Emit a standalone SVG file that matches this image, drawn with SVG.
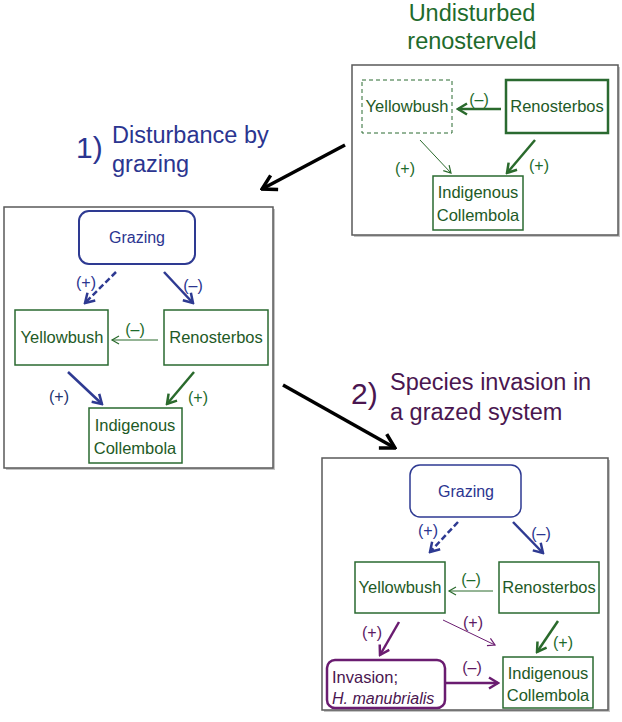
<svg xmlns="http://www.w3.org/2000/svg" width="622" height="722" viewBox="0 0 622 722">
<style>
text{font-family:"Liberation Sans",Arial,sans-serif}
.frame{fill:#fff;stroke:#5a5a5a;stroke-width:1.5}
.shadow{fill:#c4c4c4}
.gbox{fill:#fff;stroke:#2a6a30;stroke-width:1.5}
.node{font-size:16.5px;fill:#1e5a26;text-anchor:middle}
.gz{font-size:16px;fill:#2b3590;text-anchor:middle}
.lbl{font-size:16px;text-anchor:middle}
.tg{fill:#1e6b2c}.tb{fill:#2b3590}.tp{fill:#4a1650}.tn{fill:#23336e}.tpu{fill:#5d1a63}
.title{font-size:23.5px}
.big{font-size:30px}
.cg{stroke:#2a6a2c;fill:none}.cb{stroke:#2e3a92;fill:none}.cp{stroke:#6a1c70;fill:none}
.thick{stroke-width:2.5}.thin{stroke-width:1}
</style>
<defs>
<marker id="mgT" viewBox="-12 -8 14 16" markerWidth="14" markerHeight="16" refX="0" refY="0" orient="auto" markerUnits="userSpaceOnUse"><path d="M-9,-5.5 L0,0 L-9,5.5" fill="none" stroke="#2a6a2c" stroke-width="2.5"/></marker>
<marker id="mgt" viewBox="-10 -6 12 12" markerWidth="12" markerHeight="12" refX="0" refY="0" orient="auto" markerUnits="userSpaceOnUse"><path d="M-7,-4 L0,0 L-7,4" fill="none" stroke="#2a6a2c" stroke-width="1.2"/></marker>
<marker id="mbT" viewBox="-12 -8 14 16" markerWidth="14" markerHeight="16" refX="0" refY="0" orient="auto" markerUnits="userSpaceOnUse"><path d="M-9,-5.5 L0,0 L-9,5.5" fill="none" stroke="#2e3a92" stroke-width="2.5"/></marker>
<marker id="mpT" viewBox="-12 -8 14 16" markerWidth="14" markerHeight="16" refX="0" refY="0" orient="auto" markerUnits="userSpaceOnUse"><path d="M-9,-5.5 L0,0 L-9,5.5" fill="none" stroke="#6a1c70" stroke-width="2.5"/></marker>
<marker id="mpt" viewBox="-10 -6 12 12" markerWidth="12" markerHeight="12" refX="0" refY="0" orient="auto" markerUnits="userSpaceOnUse"><path d="M-7,-4 L0,0 L-7,4" fill="none" stroke="#6a1c70" stroke-width="1.2"/></marker>
<marker id="mk" viewBox="-18 -10 20 20" markerWidth="20" markerHeight="20" refX="0" refY="0" orient="auto" markerUnits="userSpaceOnUse"><path d="M-14,-8 L0,0 L-14,8" fill="none" stroke="#000" stroke-width="3.5"/></marker>
</defs>

<!-- Titles -->
<g id="title-undisturbed" class="tg">
<text class="title" x="472" y="21" text-anchor="middle">Undisturbed</text>
<text class="title" x="472" y="49" text-anchor="middle">renosterveld</text>
</g>
<g id="title-1" class="tb">
<text class="big" x="76" y="158">1)</text>
<text class="title" x="112" y="143">Disturbance by</text>
<text class="title" x="112" y="172">grazing</text>
</g>
<g id="title-2" class="tp">
<text class="big" x="351" y="404">2)</text>
<text class="title" x="390" y="390">Species invasion in</text>
<text class="title" x="390" y="420">a grazed system</text>
</g>

<!-- Frames -->
<g id="frame1"><rect class="shadow" x="354" y="67" width="266" height="170"/><rect class="frame" x="352" y="65" width="266" height="170"/></g>
<g id="frame2"><rect class="shadow" x="6" y="209" width="269" height="261"/><rect class="frame" x="4" y="207" width="269" height="261"/></g>
<g id="frame3"><rect class="shadow" x="324" y="460" width="286" height="252"/><rect class="frame" x="322" y="458" width="286" height="252"/></g>

<!-- Frame 1 nodes -->
<g id="f1-yellowbush"><rect x="362" y="80" width="90" height="53" fill="#fff" stroke="#2a6a30" stroke-width="1" stroke-dasharray="4,3"/><text class="node" x="407" y="112">Yellowbush</text></g>
<g id="f1-renosterbos"><rect x="506" y="80" width="102" height="53" fill="#fff" stroke="#2a6a30" stroke-width="2.5"/><text class="node" x="557" y="112">Renosterbos</text></g>
<g id="f1-collembola"><rect class="gbox" x="433" y="176" width="90" height="54"/><text class="node" x="478" y="198">Indigenous</text><text class="node" x="478" y="221">Collembola</text></g>

<!-- Frame 2 nodes -->
<g id="f2-grazing"><rect x="79" y="211" width="116" height="53" rx="10" fill="#fff" stroke="#2e3a92" stroke-width="2"/><text class="gz" x="137" y="243">Grazing</text></g>
<g id="f2-yellowbush"><rect class="gbox" x="15" y="310" width="93" height="55"/><text class="node" x="62" y="343">Yellowbush</text></g>
<g id="f2-renosterbos"><rect class="gbox" x="164" y="310" width="104" height="55"/><text class="node" x="216" y="343">Renosterbos</text></g>
<g id="f2-collembola"><rect class="gbox" x="89" y="408" width="93" height="55"/><text class="node" x="135" y="431">Indigenous</text><text class="node" x="135" y="454">Collembola</text></g>

<!-- Frame 3 nodes -->
<g id="f3-grazing"><rect x="410" y="465" width="111" height="52" rx="10" fill="#fff" stroke="#2e3a92" stroke-width="1.5"/><text class="gz" x="466" y="497">Grazing</text></g>
<g id="f3-yellowbush"><rect class="gbox" x="355" y="562" width="90" height="51"/><text class="node" x="400" y="593">Yellowbush</text></g>
<g id="f3-renosterbos"><rect class="gbox" x="499" y="562" width="100" height="51"/><text class="node" x="549" y="593">Renosterbos</text></g>
<g id="f3-invasion"><rect x="327" y="660" width="118" height="48" rx="8" fill="#fff" stroke="#6a1c70" stroke-width="2.5"/><text x="332" y="683" font-size="16.5" fill="#4a1650">Invasion;</text><text x="332" y="704" font-size="16" font-style="italic" fill="#4a1650">H. manubrialis</text></g>
<g id="f3-collembola"><rect class="gbox" x="503" y="657" width="90" height="51"/><text class="node" x="548" y="679">Indigenous</text><text class="node" x="548" y="701">Collembola</text></g>

<!-- Connectors -->
<g id="connectors">
<line x1="345" y1="145" x2="262" y2="189" stroke="#000" stroke-width="3.5" marker-end="url(#mk)"/>
<line x1="283" y1="385" x2="395" y2="448" stroke="#000" stroke-width="3.5" marker-end="url(#mk)"/>

<line class="cg thick" x1="501" y1="109" x2="458" y2="109" marker-end="url(#mgT)"/>
<line class="cg thin" x1="420" y1="140" x2="451" y2="173" marker-end="url(#mgt)"/>
<line class="cg thick" x1="535" y1="140" x2="507" y2="173" marker-end="url(#mgT)"/>

<line class="cb thick" x1="116" y1="272" x2="85" y2="303" stroke-dasharray="6,3" marker-end="url(#mbT)"/>
<line class="cb thick" x1="164" y1="272" x2="193" y2="303" marker-end="url(#mbT)"/>
<line class="cg thin" x1="158" y1="340" x2="112" y2="340" marker-end="url(#mgt)"/>
<line class="cb thick" x1="68" y1="372" x2="102" y2="404" marker-end="url(#mbT)"/>
<line class="cg thick" x1="194" y1="372" x2="167" y2="404" marker-end="url(#mgT)"/>

<line class="cb thick" x1="458" y1="522" x2="430" y2="552" stroke-dasharray="6,3" marker-end="url(#mbT)"/>
<line class="cb thick" x1="513" y1="522" x2="543" y2="553" marker-end="url(#mbT)"/>
<line class="cg thin" x1="493" y1="591" x2="449" y2="591" marker-end="url(#mgt)"/>
<line class="cp thin" x1="443" y1="620" x2="495" y2="645" marker-end="url(#mpt)"/>
<line class="cp thick" x1="399" y1="622" x2="380" y2="655" marker-end="url(#mpT)"/>
<line class="cp thick" x1="445" y1="683" x2="498" y2="683" marker-end="url(#mpT)"/>
<line class="cg thick" x1="558" y1="621" x2="537" y2="652" marker-end="url(#mgT)"/>

<!-- labels -->
<text class="lbl tg" x="479" y="105">(–)</text>
<text class="lbl tg" x="405" y="174">(+)</text>
<text class="lbl tg" x="539" y="171">(+)</text>

<text class="lbl tb" x="86" y="288">(+)</text>
<text class="lbl tb" x="193" y="291">(–)</text>
<text class="lbl tg" x="135" y="335">(–)</text>
<text class="lbl tn" x="59" y="402">(+)</text>
<text class="lbl tg" x="198" y="403">(+)</text>

<text class="lbl tb" x="428" y="536">(+)</text>
<text class="lbl tb" x="541" y="539">(–)</text>
<text class="lbl tg" x="471" y="585">(–)</text>
<text class="lbl tpu" x="473" y="628">(+)</text>
<text class="lbl tpu" x="372" y="638">(+)</text>
<text class="lbl tpu" x="472" y="673">(–)</text>
<text class="lbl tg" x="563" y="648">(+)</text>
</g>
</svg>
